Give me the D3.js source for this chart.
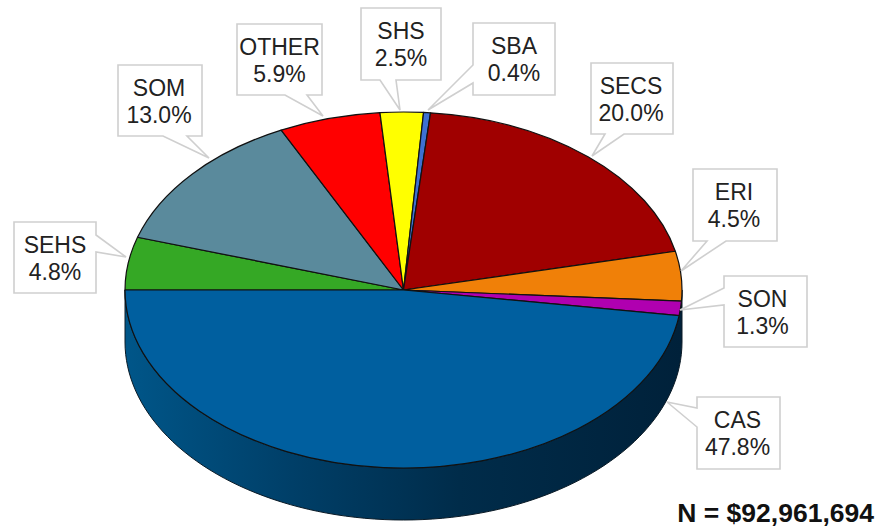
<!DOCTYPE html>
<html><head><meta charset="utf-8">
<script src="https://d3js.org/d3.v7.min.js"></script>
<style>html,body{margin:0;padding:0;background:#fff}svg{display:block}
text{font-family:"Liberation Sans",Arial,sans-serif}</style></head><body>
<svg id="c" width="879" height="527"></svg>
<script>
const categories=["SEHS","SOM","OTHER","SHS","SBA","SECS","ERI","SON","CAS"];
const shares=[4.8,13.0,5.9,2.5,0.4,20.0,4.5,1.3,47.8];
const colours=["#35a825","#5a8a9c","#ff0000","#ffff00","#3e70d2","#a00000","#f08008","#b000b0","#005f9f"];
const totalLabel="N = $92,961,694";

// layout of the callouts: box [x0,y0,x1,y1], pointer base a, tip, pointer base b, text offset dx
const callouts=[
 {box:[14,222,96,293],a:[96,235],tip:[126,257],b:[96,252],dx:0},
 {box:[118,65,202,136],a:[163,136],tip:[209,158],b:[187,136],dx:-1},
 {box:[237,24,322,95],a:[285,95],tip:[323,116],b:[307,95],dx:0},
 {box:[361,8,441,80],a:[380,80],tip:[400,110],b:[396,80],dx:0},
 {box:[473,23,555,95],a:[473,65],tip:[428,110],b:[473,83],dx:0},
 {box:[591,63,673,134],a:[605,134],tip:[592,156],b:[624,134],dx:-1},
 {box:[693,169,777,241],a:[707,241],tip:[681,271],b:[726,241],dx:-1},
 {box:[724,276,807,347],a:[724,288],tip:[680,310],b:[724,305],dx:-3},
 {box:[697,397,780,469],a:[697,408],tip:[667,402],b:[697,427],dx:-1}
];
const cx=403.5,cy=290,rx=278.5,ry=178,depth=52;

const svg=d3.select("#c");
const defs=svg.append("defs");
const g=defs.append("linearGradient").attr("id","wall").attr("gradientUnits","userSpaceOnUse")
  .attr("x1",cx-rx).attr("x2",cx+rx).attr("y1",0).attr("y2",0);
[[0,"#005689"],[0.3,"#003f68"],[0.6,"#002c4a"],[1,"#00213a"]].forEach(s=>g.append("stop").attr("offset",s[0]).attr("stop-color",s[1]));

// side wall
const ex=d3.scaleLinear().domain([-1,1]).range([cx-rx,cx+rx]);
const ey=d3.scaleLinear().domain([-1,1]).range([cy-ry,cy+ry]);
const wall=d3.path();
wall.moveTo(ex(-1),ey(0));
wall.lineTo(ex(-1),ey(0)+depth);
d3.range(-180,1,2).forEach(a=>{const t=a*Math.PI/180;wall.lineTo(ex(Math.cos(t)),ey(-Math.sin(t))+depth);});
wall.lineTo(ex(1),ey(0));
d3.range(0,-181,-2).forEach(a=>{const t=a*Math.PI/180;wall.lineTo(ex(Math.cos(t)),ey(-Math.sin(t)));});
wall.closePath();
svg.append("path").attr("d",wall.toString()).attr("fill","url(#wall)").attr("stroke","#0a1a26").attr("stroke-width",1);

// top face
const pie=d3.pie().sort(null).value(d=>d).startAngle(-Math.PI/2).endAngle(Math.PI*1.5);
const arc=d3.arc().innerRadius(0).outerRadius(rx);
svg.append("g").attr("transform",`translate(${cx},${cy}) scale(1,${ry/rx})`)
 .selectAll("path").data(pie(shares)).join("path")
 .attr("d",arc).attr("fill",(d,i)=>colours[i])
 .attr("stroke","#111").attr("stroke-width",1.2).attr("stroke-linejoin","round")
 .attr("vector-effect","non-scaling-stroke");

// callouts
const line=d3.line();
callouts.forEach((c,i)=>{
  const [x0,y0,x1,y1]=c.box;
  const sideLeft=c.a[0]===x0&&c.b[0]===x0, sideRight=c.a[0]===x1&&c.b[0]===x1;
  let pts;
  if(sideLeft) pts=[[x0,y0],[x1,y0],[x1,y1],[x0,y1],c.b,c.tip,c.a];
  else if(sideRight) pts=[[x0,y0],[x1,y0],c.a,c.tip,c.b,[x1,y1],[x0,y1]];
  else pts=[[x0,y0],[x1,y0],[x1,y1],c.b,c.tip,c.a,[x0,y1]];
  svg.append("path").attr("d",line(pts)+"Z").attr("fill","#fff").attr("stroke","#cfcfcf").attr("stroke-width",1.6);
  const tx=(x0+x1)/2+c.dx;
  const t=svg.append("text").attr("text-anchor","middle").attr("font-size",23).attr("fill","#222");
  t.append("tspan").attr("x",tx).attr("y",y0+31).text(categories[i]);
  t.append("tspan").attr("x",tx).attr("y",y0+57.5).text(d3.format(".1f")(shares[i])+"%");
});

svg.append("text").attr("x",874).attr("y",522).attr("text-anchor","end").attr("font-size",26.5).attr("font-weight","bold").attr("fill","#111").text(totalLabel);
</script></body></html>
